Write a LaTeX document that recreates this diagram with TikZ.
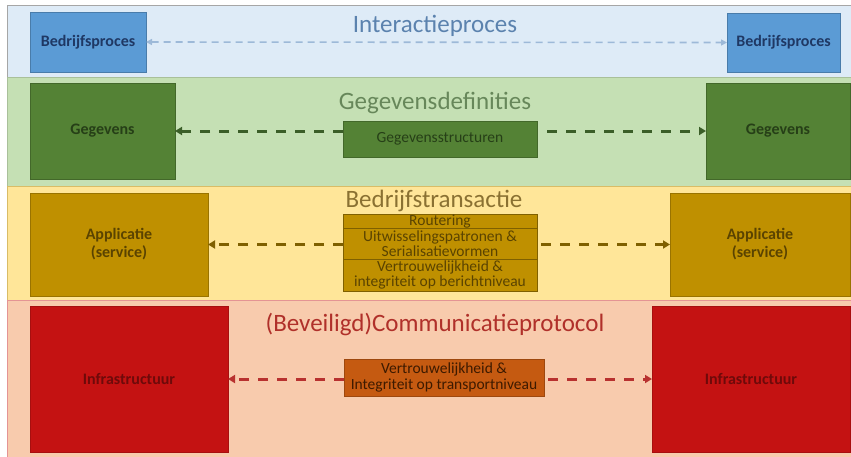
\documentclass[tikz,border=0pt]{standalone}
\usepackage{fontspec}
\setmainfont{Carlito}
\usetikzlibrary{arrows.meta,calc}
\definecolor{bandB}{HTML}{DEEBF7}
\definecolor{bandG}{HTML}{C5E0B4}
\definecolor{bandY}{HTML}{FFE699}
\definecolor{bandR}{HTML}{F8CBAD}
\definecolor{boxB}{HTML}{5B9BD5}
\definecolor{boxG}{HTML}{548235}
\definecolor{boxY}{HTML}{BF9000}
\definecolor{boxR}{HTML}{C41212}
\definecolor{boxO}{HTML}{C55A11}
\definecolor{txtB}{HTML}{1F3864}
\definecolor{txtG}{HTML}{263F17}
\definecolor{txtY}{HTML}{5A4300}
\definecolor{txtR}{HTML}{6E0A0A}
\definecolor{txtO}{HTML}{3D1A00}
\definecolor{ttlB}{HTML}{5B82AE}
\definecolor{ttlG}{HTML}{67875A}
\definecolor{ttlY}{HTML}{8A7132}
\definecolor{ttlR}{HTML}{B0302A}
\definecolor{arrB}{HTML}{9DB9D8}
\definecolor{arrG}{HTML}{3B5E28}
\definecolor{arrY}{HTML}{7F6000}
\definecolor{arrR}{HTML}{B8312F}
\begin{document}
\begin{tikzpicture}[x=1pt,y=-1pt,
  sbox/.style={draw, line width=0.6pt, inner sep=0pt, outer sep=0pt, anchor=north west, align=center,
    font=\bfseries\fontsize{16}{18}\selectfont},
  cbox/.style={draw, line width=0.6pt, inner sep=0pt, outer sep=0pt, anchor=north west, align=center,
    font=\fontsize{15.5}{15.5}\selectfont},
  ctext/.style={inner sep=0pt, outer sep=0pt, align=center, font=\fontsize{15.5}{15.5}\selectfont},
  ttl/.style={inner sep=0pt, font=\fontsize{25}{29}\selectfont},
  arrthin/.style={line width=1.6pt, dash pattern=on 7pt off 5pt},
  arrthick/.style={line width=3pt, dash pattern=on 10pt off 9pt, -{Triangle[length=7pt,width=8pt]}}
]
\useasboundingbox (0,0) rectangle (851,456);
% bands
\fill[white] (0,0) rectangle (851,456);
\draw[fill=bandB, draw=gray!70, line width=0.8pt] (7,5) rectangle (860,77);
\draw[fill=bandG, draw=boxG!50, line width=0.8pt] (7,77) rectangle (860,186);
\draw[fill=bandY, draw=boxY!60, line width=0.8pt] (7,186) rectangle (860,300);
\draw[fill=bandR, draw=boxR!45, line width=0.8pt] (7,300) rectangle (860,462);

% band 1
\node[ttl, text=ttlB] (t1) at (435,26) {Interactieproces};
\node[sbox, fill=boxB, draw=boxB!80!black, text=txtB, minimum width=116, minimum height=60] (bl) at (30,12) {Bedrijfsproces};
\node[sbox, fill=boxB, draw=boxB!80!black, text=txtB, minimum width=113, minimum height=59] (br) at (727,13) {Bedrijfsproces};
\draw[arrthin, color=arrB, {Triangle[length=6pt,width=6pt]}-{Triangle[length=6pt,width=6pt]}] (bl.east) -- (br.west);

% band 2
\node[ttl, text=ttlG] (t2) at (435,103) {Gegevensdefinities};
\node[sbox, fill=boxG, draw=boxG!80!black, text=txtG, minimum width=145, minimum height=96] (gl) at (30,83) {Gegevens};
\node[sbox, fill=boxG, draw=boxG!80!black, text=txtG, minimum width=144, minimum height=96] (gr) at (706,83) {Gegevens};
\node[cbox, fill=boxG, draw=boxG!80!black, text=txtG, minimum width=194, minimum height=36] (gs) at (343,121) {Gegevensstructuren};
\draw[arrthick, color=arrG] (gl.east -| gs.west) -- (gl.east);
\draw[arrthick, color=arrG] ($(gr.west -| gs.east)+(10,0)$) -- (gr.west);

% band 3
\node[ttl, text=ttlY] (t3) at (434,201) {Bedrijfstransactie};
\node[sbox, fill=boxY, draw=boxY!80!black, text=txtY, minimum width=178, minimum height=103] (al) at (30,193) {Applicatie\\(service)};
\node[sbox, fill=boxY, draw=boxY!80!black, text=txtY, minimum width=180, minimum height=103] (ar) at (670,193) {Applicatie\\(service)};
\node[cbox, fill=boxY, draw=arrY, minimum width=194, minimum height=77] (bt) at (343,214) {};
\draw[arrY, line width=0.6pt] (343,228) -- (537,228);
\draw[arrY, line width=0.6pt] (343,259) -- (537,259);
\node[ctext, text=txtY] (r1) at (440,221) {Routering};
\node[ctext, text=txtY] (r2) at (440,243.5) {Uitwisselingspatronen \&\\Serialisatievormen};
\node[ctext, text=txtY] (r3) at (440,275) {Vertrouwelijkheid \&\\integriteit op berichtniveau};
\draw[arrthick, color=arrY] (al.east -| bt.west) -- (al.east);
\draw[arrthick, color=arrY] ($(ar.west -| bt.east)+(4,0)$) -- (ar.west);

% band 4
\node[ttl, text=ttlR] (t4) at (435,324) {(Beveiligd)Communicatieprotocol};
\node[sbox, fill=boxR, draw=boxR!85!black, text=txtR, minimum width=198, minimum height=146] (il) at (30,306) {Infrastructuur};
\node[sbox, fill=boxR, draw=boxR!85!black, text=txtR, minimum width=198, minimum height=146] (ir) at (652,306) {Infrastructuur};
\node[cbox, fill=boxO, draw=boxO!80!black, text=txtO, minimum width=200, minimum height=37] (vt) at (344,359) {Vertrouwelijkheid \&\\Integriteit op transportniveau};
\draw[arrthick, color=arrR] (il.east -| vt.west) -- (il.east);
\draw[arrthick, color=arrR] ($(ir.west -| vt.east)+(4,0)$) -- (ir.west);
\end{tikzpicture}
\end{document}
